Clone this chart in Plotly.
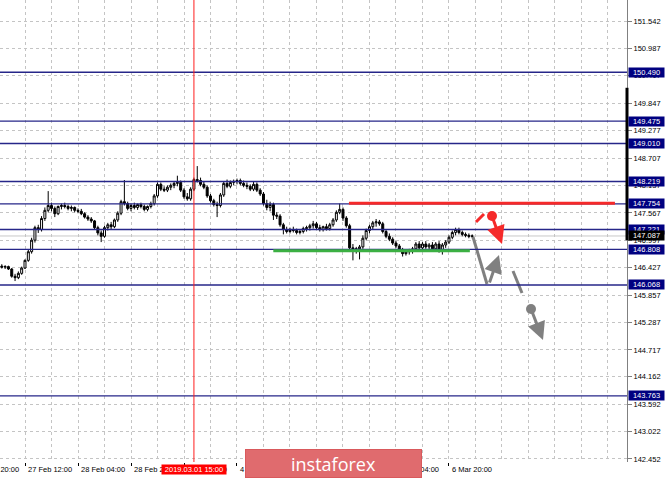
import plotly.graph_objects as go

# ---------------- data (H1 candles, bar index 0 = 27 Feb 05:00) ----------------
bar_index = list(range(143))

opens = [146.46, 146.44, 146.45, 146.40, 146.25, 146.22, 146.31, 146.42, 146.58, 146.76,
         147.00, 147.26, 147.22, 147.45, 147.62, 147.72, 147.66, 147.55, 147.70, 147.72,
         147.70, 147.66, 147.68, 147.62, 147.60, 147.55, 147.48, 147.44, 147.40, 147.26,
         147.15, 147.08, 147.26, 147.32, 147.28, 147.42, 147.56, 147.80, 147.76, 147.66,
         147.72, 147.68, 147.74, 147.70, 147.64, 147.70, 147.76, 147.92, 148.16, 148.06,
         148.04, 148.10, 148.14, 148.18, 148.20, 148.04, 147.90, 147.86, 148.06, 148.26,
         148.24, 148.16, 148.10, 147.92, 147.82, 147.74, 147.72, 147.94, 148.18, 148.12,
         148.20, 148.22, 148.24, 148.18, 148.14, 148.12, 148.06, 148.16, 148.04, 147.96,
         147.76, 147.68, 147.74, 147.52, 147.50, 147.32, 147.22, 147.18, 147.22, 147.20,
         147.16, 147.18, 147.24, 147.26, 147.30, 147.34, 147.26, 147.22, 147.28, 147.24,
         147.32, 147.42, 147.58, 147.64, 147.46, 147.30, 146.84, 146.80, 146.82, 146.86,
         147.04, 147.20, 147.28, 147.36, 147.38, 147.34, 147.18, 147.08, 147.02, 146.94,
         146.88, 146.80, 146.72, 146.76, 146.78, 146.82, 146.92, 146.84, 146.92, 146.86,
         146.90, 146.82, 146.92, 146.80, 146.90, 146.96, 147.06, 147.16, 147.22, 147.16,
         147.12, 147.10, 147.08]

highs = [146.50, 146.48, 146.47, 146.42, 146.30, 146.35, 146.45, 146.60, 146.80, 147.05,
         147.30, 147.32, 147.50, 147.68, 148.02, 147.78, 147.70, 147.72, 147.76, 147.78,
         147.74, 147.72, 147.70, 147.66, 147.65, 147.58, 147.52, 147.48, 147.42, 147.30,
         147.20, 147.30, 147.36, 147.38, 147.45, 147.60, 147.84, 148.25, 147.80, 147.76,
         147.78, 147.76, 147.78, 147.74, 147.72, 147.80, 147.96, 148.20, 148.20, 148.12,
         148.14, 148.18, 148.22, 148.34, 148.24, 148.08, 147.98, 148.10, 148.30, 148.54,
         148.30, 148.22, 148.14, 147.96, 147.86, 147.80, 147.98, 148.22, 148.26, 148.24,
         148.26, 148.28, 148.28, 148.24, 148.20, 148.16, 148.22, 148.20, 148.08, 148.00,
         147.84, 147.80, 147.78, 147.58, 147.54, 147.36, 147.28, 147.26, 147.28, 147.24,
         147.22, 147.28, 147.30, 147.34, 147.40, 147.38, 147.32, 147.30, 147.34, 147.36,
         147.46, 147.62, 147.76, 147.68, 147.50, 147.34, 146.92, 146.86, 146.90, 147.10,
         147.24, 147.32, 147.40, 147.44, 147.42, 147.38, 147.22, 147.14, 147.06, 146.98,
         146.92, 146.84, 146.80, 146.82, 146.86, 146.96, 146.98, 146.96, 146.98, 146.94,
         146.96, 146.96, 146.98, 146.94, 147.00, 147.10, 147.20, 147.26, 147.26, 147.20,
         147.16, 147.14, 147.12]

lows = [146.41, 146.40, 146.38, 146.22, 146.15, 146.19, 146.28, 146.40, 146.55, 146.72,
        146.95, 147.15, 147.18, 147.40, 147.58, 147.60, 147.48, 147.52, 147.64, 147.66,
        147.62, 147.60, 147.58, 147.56, 147.52, 147.45, 147.40, 147.36, 147.22, 147.10,
        146.96, 147.05, 147.20, 147.22, 147.25, 147.38, 147.52, 147.72, 147.62, 147.60,
        147.64, 147.63, 147.66, 147.60, 147.60, 147.66, 147.72, 147.88, 148.02, 148.00,
        148.00, 148.04, 148.08, 148.12, 148.00, 147.86, 147.82, 147.82, 148.02, 148.20,
        148.12, 148.06, 147.88, 147.78, 147.70, 147.48, 147.68, 147.90, 148.08, 148.08,
        148.14, 148.16, 148.14, 148.10, 148.06, 148.02, 148.02, 148.00, 147.92, 147.72,
        147.62, 147.60, 147.42, 147.44, 147.28, 147.12, 147.14, 147.14, 147.16, 147.12,
        147.12, 147.14, 147.18, 147.20, 147.24, 147.22, 147.18, 147.18, 147.20, 147.20,
        147.28, 147.38, 147.54, 147.40, 147.26, 146.80, 146.58, 146.72, 146.60, 146.82,
        147.00, 147.14, 147.22, 147.28, 147.30, 147.14, 147.04, 146.98, 146.90, 146.84,
        146.76, 146.66, 146.68, 146.70, 146.72, 146.78, 146.80, 146.80, 146.82, 146.78,
        146.76, 146.78, 146.74, 146.70, 146.84, 146.92, 147.02, 147.10, 147.12, 147.08,
        147.06, 147.04, 147.04]

closes = [146.44, 146.45, 146.40, 146.25, 146.22, 146.31, 146.42, 146.58, 146.76, 147.00,
          147.26, 147.22, 147.45, 147.62, 147.72, 147.66, 147.55, 147.70, 147.72, 147.70,
          147.66, 147.68, 147.62, 147.60, 147.55, 147.48, 147.44, 147.40, 147.26, 147.15,
          147.08, 147.26, 147.32, 147.28, 147.42, 147.56, 147.80, 147.76, 147.66, 147.72,
          147.68, 147.74, 147.70, 147.64, 147.70, 147.76, 147.92, 148.16, 148.06, 148.04,
          148.10, 148.14, 148.18, 148.20, 148.04, 147.90, 147.86, 148.06, 148.26, 148.24,
          148.16, 148.10, 147.92, 147.82, 147.74, 147.72, 147.94, 148.18, 148.12, 148.20,
          148.22, 148.24, 148.18, 148.14, 148.12, 148.06, 148.16, 148.04, 147.96, 147.76,
          147.68, 147.74, 147.52, 147.50, 147.32, 147.22, 147.18, 147.22, 147.20, 147.16,
          147.18, 147.24, 147.26, 147.30, 147.34, 147.26, 147.22, 147.28, 147.24, 147.32,
          147.42, 147.58, 147.64, 147.46, 147.30, 146.84, 146.80, 146.82, 146.86, 147.04,
          147.20, 147.28, 147.36, 147.38, 147.34, 147.18, 147.08, 147.02, 146.94, 146.88,
          146.80, 146.72, 146.76, 146.78, 146.82, 146.92, 146.84, 146.92, 146.86, 146.90,
          146.82, 146.92, 146.80, 146.90, 146.96, 147.06, 147.16, 147.22, 147.16, 147.12,
          147.10, 147.08, 147.087]

level_prices = [150.490, 149.475, 149.010, 148.219, 147.754, 147.221, 146.808, 146.068, 143.763]
current_price = 147.087

y_tick_vals = [151.542, 150.987, 150.417, 149.847, 149.277, 148.707, 148.137, 147.567,
               146.997, 146.427, 145.857, 145.287, 144.717, 144.162, 143.592, 143.022, 142.452]

x_tick_bars = [-9, 7, 23, 39, 55, 71, 87, 103, 119, 135]
x_tick_labels = ["26 Feb 20:00", "27 Feb 12:00", "28 Feb 04:00", "28 Feb 20:00", "1 Mar 12:00",
                 "4 Mar 04:00", "4 Mar 20:00", "5 Mar 12:00", "6 Mar 04:00", "6 Mar 20:00"]
marker_bar = 58
marker_label = "2019.03.01 15:00"

# drawn levels / forecast sketch (bar index, price)
resistance_x = [104.8, 185.1]
resistance_y = 147.77
support_x = [81.96, 141.3]
support_y = 146.781

red_lead_x = [143.15, 145.57]
red_lead_y = [147.378, 147.544]
red_dot = (147.98, 147.502)
red_tip = (151.0, 146.920)

gray_path_x = [142.25, 146.47]
gray_path_y = [147.066, 146.089]
gray_up_tail = (147.08, 146.089)
gray_up_tip = (150.1, 146.692)
gray_dash_x = [154.32, 157.04]
gray_dash_y = [146.359, 145.902]
gray_dot = (159.76, 145.569)
gray_tip = (163.38, 144.924)

# ---------------- geometry ----------------
X_RANGE = [-0.547, 188.74]
Y_RANGE = [142.388, 151.993]
FONT = "Liberation Sans"
FS = 7.5
NAVY = "#262689"
GRID = "#c4c4c4"
RED = "#f52a2a"
GRAY = "#808080"


def xpaper(b):
    return (b - X_RANGE[0]) / (X_RANGE[1] - X_RANGE[0])


fig = go.Figure()

fig.add_trace(go.Candlestick(
    x=bar_index, open=opens, high=highs, low=lows, close=closes,
    increasing=dict(line=dict(color="black", width=1), fillcolor="white"),
    decreasing=dict(line=dict(color="black", width=1), fillcolor="black"),
    whiskerwidth=0, hoverinfo="skip", showlegend=False,
))

# forecast sketch lines
fig.add_trace(go.Scatter(x=red_lead_x, y=red_lead_y, mode="lines",
                         line=dict(color=RED, width=3), hoverinfo="skip"))
fig.add_trace(go.Scatter(x=gray_path_x, y=gray_path_y, mode="lines",
                         line=dict(color=GRAY, width=3), hoverinfo="skip"))
fig.add_trace(go.Scatter(x=gray_dash_x, y=gray_dash_y, mode="lines",
                         line=dict(color=GRAY, width=3), hoverinfo="skip"))
fig.add_trace(go.Scatter(x=[red_dot[0]], y=[red_dot[1]], mode="markers",
                         marker=dict(color=RED, size=10), hoverinfo="skip"))
fig.add_trace(go.Scatter(x=[gray_dot[0]], y=[gray_dot[1]], mode="markers",
                         marker=dict(color=GRAY, size=10), hoverinfo="skip"))

shapes = []
for p in level_prices:
    shapes.append(dict(type="line", xref="paper", x0=0, x1=1, yref="y", y0=p, y1=p,
                       line=dict(color=NAVY, width=1.4), layer="above"))
shapes.append(dict(type="line", xref="paper", x0=0, x1=1, yref="y", y0=current_price,
                   y1=current_price, line=dict(color="#c8c8c8", width=1), layer="below"))
shapes.append(dict(type="line", xref="x", x0=marker_bar, x1=marker_bar, yref="paper", y0=0, y1=1,
                   line=dict(color="#ff1e1e", width=1), layer="above"))
shapes.append(dict(type="line", xref="x", x0=resistance_x[0], x1=resistance_x[1], yref="y",
                   y0=resistance_y, y1=resistance_y, line=dict(color=RED, width=3), layer="above"))
shapes.append(dict(type="line", xref="x", x0=support_x[0], x1=support_x[1], yref="y",
                   y0=support_y, y1=support_y, line=dict(color="#3cb043", width=3), layer="above"))
shapes.append(dict(type="line", xref="paper", x0=1, x1=1, yref="paper", y0=0.48, y1=0.81,
                   line=dict(color="black", width=3), layer="above"))

annotations = []
# time labels (left aligned after tick)
for b, t in zip(x_tick_bars, x_tick_labels):
    annotations.append(dict(x=xpaper(b), xref="paper", y=0, yref="paper", text=t,
                            showarrow=False, xanchor="left", yanchor="middle", xshift=1, yshift=-7,
                            font=dict(family=FONT, size=FS, color="black")))
annotations.append(dict(x=xpaper(marker_bar), xref="paper", y=0, yref="paper", text=marker_label,
                        showarrow=False, xanchor="center", yanchor="middle", yshift=-7,
                        bgcolor="#ff0000", width=64, height=9, borderpad=0,
                        font=dict(family=FONT, size=FS, color="white")))
# price labels
for p in level_prices:
    annotations.append(dict(x=1, xref="paper", y=p, yref="y", text=f"{p:.3f}", showarrow=False,
                            xanchor="left", yanchor="middle", xshift=1, bgcolor="#000080",
                            width=35, height=9, borderpad=0,
                            font=dict(family=FONT, size=FS, color="white")))
annotations.append(dict(x=1, xref="paper", y=current_price, yref="y", text=f"{current_price:.3f}",
                        showarrow=False, xanchor="left", yanchor="middle", xshift=1,
                        bgcolor="black", width=35, height=9, borderpad=0,
                        font=dict(family=FONT, size=FS, color="white")))
# arrows
for tail, tip, col in [(red_dot, red_tip, RED), (gray_up_tail, gray_up_tip, GRAY),
                       (gray_dot, gray_tip, GRAY)]:
    annotations.append(dict(x=tip[0], y=tip[1], ax=tail[0], ay=tail[1], xref="x", yref="y",
                            axref="x", ayref="y", text="", showarrow=True, arrowhead=2,
                            arrowsize=1.2, arrowwidth=3, arrowcolor=col))
# logo
annotations.append(dict(x=333 / 627, xref="paper", y=0, yref="paper", text="instaforex",
                        showarrow=False, xanchor="center", yanchor="middle", yshift=-1,
                        bgcolor="#e06b6e", bordercolor="#d9595c", borderwidth=1,
                        width=175, height=27, borderpad=0,
                        font=dict(family="Open Sans", size=18, color="white")))

fig.update_layout(
    width=665, height=479, margin=dict(l=0, r=38, t=0, b=17, autoexpand=False),
    paper_bgcolor="white", plot_bgcolor="white", showlegend=False, boxgap=0.15,
    font=dict(family=FONT, size=FS, color="black"),
    shapes=shapes, annotations=annotations,
)
fig.update_xaxes(
    range=X_RANGE, rangeslider_visible=False, tickmode="array", tickvals=x_tick_bars,
    ticktext=[""] * len(x_tick_bars), ticks="outside", ticklen=3, tickcolor="black",
    showgrid=True, gridcolor=GRID, griddash="3px,3px", gridwidth=1,
    minor=dict(tick0=7, dtick=8, showgrid=True, gridcolor=GRID, griddash="3px,3px", gridwidth=1),
    showline=False, zeroline=False, fixedrange=True, automargin=False,
)
fig.update_yaxes(
    side="right", range=Y_RANGE, tickmode="array", tickvals=y_tick_vals,
    ticktext=[f"{v:.3f}" for v in y_tick_vals], ticks="outside", ticklen=4, tickcolor=GRAY,
    showline=True, linecolor=GRAY, linewidth=1, showgrid=True, gridcolor=GRID,
    griddash="3px,3px", gridwidth=1, zeroline=False, fixedrange=True, automargin=False,
    tickfont=dict(family=FONT, size=FS, color="black"),
)

fig.write_html("out.html", config={"displayModeBar": False},
               post_script="document.body.style.margin='0px';"
                           "document.body.style.overflow='hidden';")
